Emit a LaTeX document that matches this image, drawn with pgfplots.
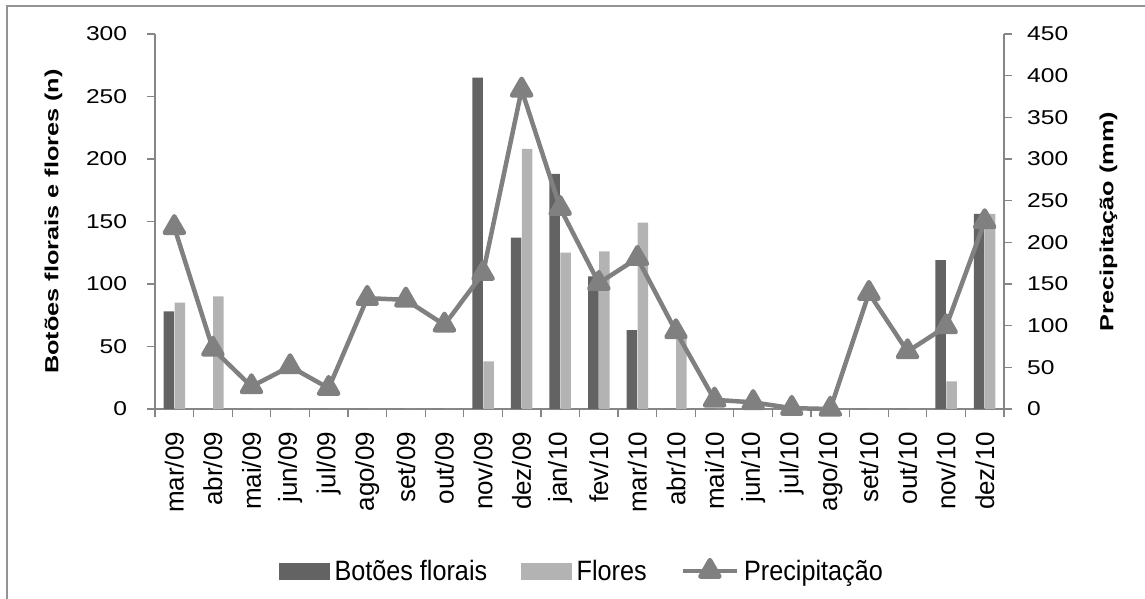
\documentclass[border=0pt]{standalone}
\usepackage{pgfplots}
\pgfplotsset{compat=1.18}
\usepackage{pgfplotstable}
\usepackage{fontspec}
\setmainfont{Liberation Sans}
\newfontfamily\tickfont[FakeStretch=1.23]{Liberation Sans}
\newfontfamily\labelfont[FakeStretch=1.33]{Liberation Sans}
\newfontfamily\legendfont[FakeStretch=0.9]{Liberation Sans}

\definecolor{botoes}{HTML}{636363}
\definecolor{flores}{HTML}{B3B3B3}
\definecolor{precip}{HTML}{808080}
\definecolor{axisgray}{HTML}{868686}
\definecolor{framegray}{HTML}{939393}

% monthly counts of flower buds and flowers, and rainfall (mm)
\pgfplotstableread{
idx botoes flores precip
0   78     85     218
1   0      90     72
2   0      0      27
3   0      0      51
4   0      0      25
5   0      0      133
6   0      0      131
7   0      0      101
8   265    38     163
9   137    208    383
10  188    125    241
11  106    126    151
12  63     149    181
13  0      58     93
14  0      0      11
15  0      0      8
16  0      0      1
17  0      0      0
18  0      0      139
19  0      0      69
20  119    22     99
21  156    156    225
}\dados

\pgfplotsset{
  barleg/.style={legend image code/.code={\fill[#1] (0pt,-8pt) rectangle (50pt,8pt);}},
  lineleg/.style={legend image code/.code={%
      \draw[mark repeat=2,mark phase=2,##1] plot coordinates {(0pt,0pt) (27pt,0pt) (54pt,0pt)};}},
  common/.style={
    at={(155pt,190pt)}, anchor=south west,
    scale only axis, width=849pt, height=375pt,
    xmin=-0.5, xmax=21.5,
    axis line style={axisgray, line width=1.2pt},
    tick align=outside,
    major tick length=8pt, minor tick length=8pt,
    /pgf/number format/assume math mode=true,
  },
}

\begin{document}
\begin{tikzpicture}
\useasboundingbox (0,0) rectangle (1145pt,599pt);
\draw[framegray, line width=1.8pt] (6.8pt,0pt) -- (6.8pt,593.2pt) -- (1145pt,593.2pt);

% left axis: bars
\begin{axis}[
  common,
  ymin=0, ymax=300,
  axis x line*=bottom, axis y line*=left,
  ytick={0,50,...,300},
  ytick style={axisgray, line width=1.2pt},
  yticklabel style={font=\tickfont\fontsize{20}{24}\selectfont, inner sep=0pt},
  yticklabel shift=19.7pt,
  xtick={0,...,21},
  xticklabels={mar/09,abr/09,mai/09,jun/09,jul/09,ago/09,set/09,out/09,nov/09,dez/09,jan/10,fev/10,mar/10,abr/10,mai/10,jun/10,jul/10,ago/10,set/10,out/10,nov/10,dez/10},
  major x tick style={draw=none},
  minor xtick={-0.5,0.5,...,21.5},
  minor x tick style={axisgray, line width=1.2pt},
  xticklabel style={font=\fontsize{26}{30}\selectfont, rotate=90, anchor=east, inner sep=0pt},
  xticklabel shift=14.7pt,
  ylabel={Botões florais e flores (n)},
  every axis y label/.style={at={(axis description cs:-0.1196,0.5)}, rotate=90, anchor=center,
    font=\labelfont\bfseries\fontsize{19}{23}\selectfont},
  ybar=0.5pt, bar width=10.5pt,
]
\addplot[fill=botoes, draw=none] table[x=idx, y=botoes]{\dados};
\addplot[fill=flores, draw=none] table[x=idx, y=flores]{\dados};
\end{axis}

% right axis: rainfall line
\begin{axis}[
  common,
  ymin=0, ymax=450,
  axis x line=none, axis y line*=right,
  ytick={0,50,...,450},
  ytick style={axisgray, line width=1.2pt},
  yticklabel style={font=\tickfont\fontsize{20}{24}\selectfont, inner sep=0pt},
  yticklabel shift=15pt,
  ylabel={Precipitação (mm)},
  every axis y label/.style={at={(axis description cs:1.1231,0.5)}, rotate=90, anchor=center,
    font=\labelfont\bfseries\fontsize{19}{23}\selectfont},
  clip=false,
  legend columns=3,
  legend style={at={(axis description cs:0.5047,-0.432)}, anchor=center,
    draw=none, fill=none, inner sep=0pt,
    font=\legendfont\fontsize{28}{32}\selectfont,
    nodes={inner xsep=5pt, inner ysep=0pt},
    /tikz/every even column/.append style={column sep=29pt}},
]
\addlegendimage{barleg=botoes}
\addlegendentry{Botões florais}
\addlegendimage{barleg=flores}
\addlegendentry{Flores}
\addplot[precip, line width=4.5pt, line join=round, mark=triangle*, mark size=11pt,
  mark options={solid, fill=precip, draw=none}, lineleg]
  table[x=idx, y=precip]{\dados};
\addlegendentry{Precipitação}
\end{axis}
\end{tikzpicture}
\end{document}
